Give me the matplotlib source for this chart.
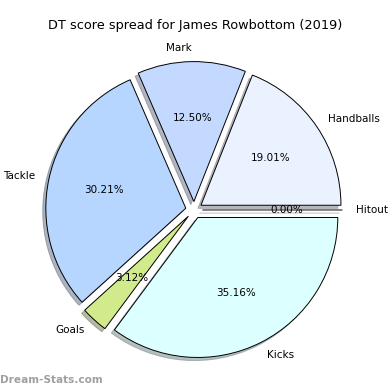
import matplotlib
matplotlib.use("Agg")
import matplotlib.pyplot as plt

labels = ["Hitout", "Handballs", "Mark", "Tackle", "Goals", "Kicks"]
values = [0, 73, 48, 116, 12, 135]
colors = ["#ffffff", "#ebf2ff", "#c4d9ff", "#b6d6ff", "#d0ea8c", "#dcffff"]
explode = [0.06, 0.06, 0.06, 0.06, 0.06, 0.06]

fig = plt.figure(figsize=(3.9, 3.9), dpi=100)
ax = fig.add_axes([0, 0, 1, 1])
wedges, texts, autotexts = ax.pie(
    values, labels=labels, colors=colors, explode=explode,
    autopct="%.2f%%", shadow=dict(ox=-0.016, oy=-0.016, shade=0.5),
    startangle=0, counterclock=True,
    wedgeprops=dict(edgecolor="black", linewidth=0.7),
    textprops=dict(fontsize=7.5), labeldistance=1.1, pctdistance=0.6,
)
ax.set_aspect("equal")
ax.set_xlim(-1.386, 1.40)
ax.set_ylim(-1.286, 1.5)
ax.axis("off")
fig.text(0.5, 1 - 26 / 390, "DT score spread for James Rowbottom (2019)",
         ha="center", va="center", fontsize=9.3)
fig.text(0.0, 1 - 380 / 390, "Dream-Stats.com", ha="left", va="center",
         fontsize=7.6, color="#a0a0a0", fontweight="bold")
fig.savefig("out.png", dpi=100)
